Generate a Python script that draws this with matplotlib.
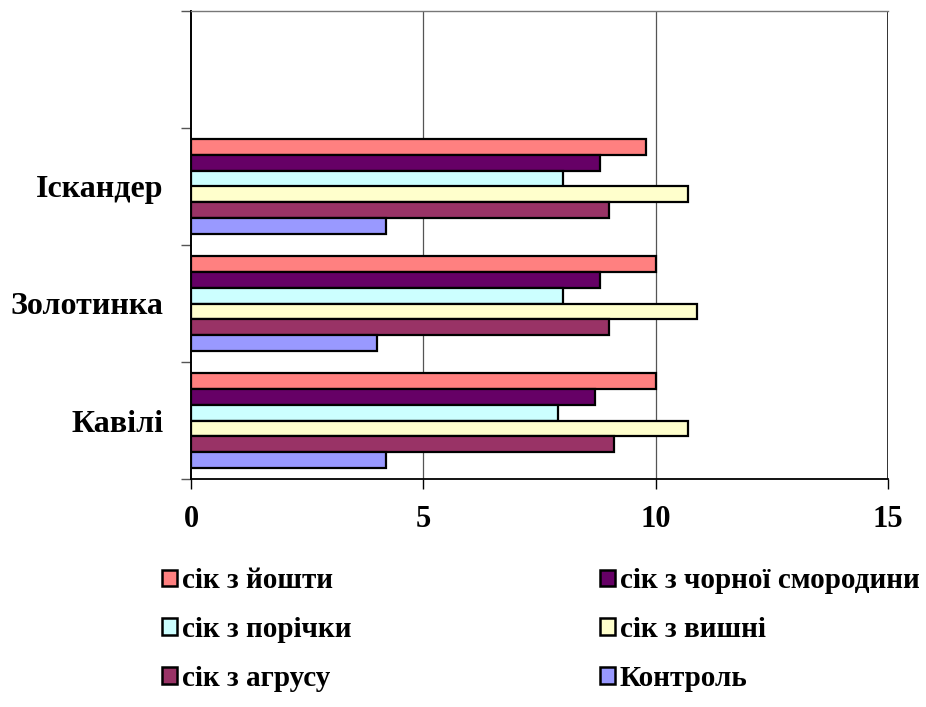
import matplotlib
matplotlib.use('Agg')
import matplotlib.pyplot as plt
from matplotlib.ticker import FixedLocator
import numpy as np

plt.rcParams['font.family'] = ['Liberation Serif', 'DejaVu Serif']
plt.rcParams['font.weight'] = 'bold'

# varieties, bottom to top (the top slot of the axis stays empty)
varieties = ['Кавілі', 'Золотинка', 'Іскандер']

# juice treatments, listed from the top bar of a group downwards
series = ['сік з йошти', 'сік з чорної смородини', 'сік з порічки',
          'сік з вишні', 'сік з агрусу', 'Контроль']
colors = ['#FF8080', '#660066', '#CCFFFF', '#FFFFCC', '#993366', '#9999FF']

# one list per treatment: Кавілі, Золотинка, Іскандер
yoshta = [10.0, 10.0, 9.8]
blackcurrant = [8.7, 8.8, 8.8]
redcurrant = [7.9, 8.0, 8.0]
cherry = [10.7, 10.9, 10.7]
gooseberry = [9.1, 9.0, 9.0]
control = [4.2, 4.0, 4.2]
values = [yoshta, blackcurrant, redcurrant, cherry, gooseberry, control]

fig = plt.figure(figsize=(9.26, 7.07), dpi=100)
ax = fig.add_axes([191 / 926, 1 - 479 / 707, 697 / 926, 468 / 707])

y = np.arange(len(varieties))
h = 0.135
n = len(series)
handles = []
for i, (name, vals, c) in enumerate(zip(series, values, colors)):
    offset = ((n - 1) / 2 - i) * h
    b = ax.barh(y + offset, vals, height=h, color=c, edgecolor='black',
                linewidth=1.6, label=name, zorder=3)
    handles.append(b)

ax.set_xlim(0, 15)
ax.set_ylim(-0.5, 3.5)
ax.set_xticks([0, 5, 10, 15])
ax.set_yticks(y)
ax.set_yticklabels(varieties)
ax.yaxis.set_minor_locator(FixedLocator(np.arange(-0.5, 3.6, 1.0)))
ax.tick_params(axis='y', which='major', length=0, pad=20, labelsize=23)
ax.tick_params(axis='y', which='minor', length=7, width=1.0, color='#555555')
ax.tick_params(axis='x', length=7, width=1.0, pad=12, labelsize=22)

for xv in [5, 10, 15]:
    ax.axvline(xv, color='#555555', linewidth=0.9, zorder=1)
ax.axvline(15, color='black', linewidth=1.1, zorder=1)

ax.spines['right'].set_visible(False)
ax.spines['top'].set_color('#777777')
ax.spines['top'].set_linewidth(1.0)
ax.spines['left'].set_linewidth(1.4)
ax.spines['bottom'].set_linewidth(1.3)

# legend in two columns: left column first, then right
order = [0, 2, 4, 1, 3, 5]
leg = fig.legend([handles[k] for k in order], [series[k] for k in order],
                 ncol=2, loc='upper left',
                 bbox_to_anchor=(162 / 926, 1 - 567 / 707),
                 frameon=False, fontsize=21, handlelength=0.52,
                 handleheight=0.48, handletextpad=0.17, labelspacing=0.75,
                 columnspacing=8.5, borderpad=0, borderaxespad=0)
for p in leg.get_patches():
    p.set_linewidth(1.8)

fig.savefig('out.png', dpi=100, facecolor='white')
